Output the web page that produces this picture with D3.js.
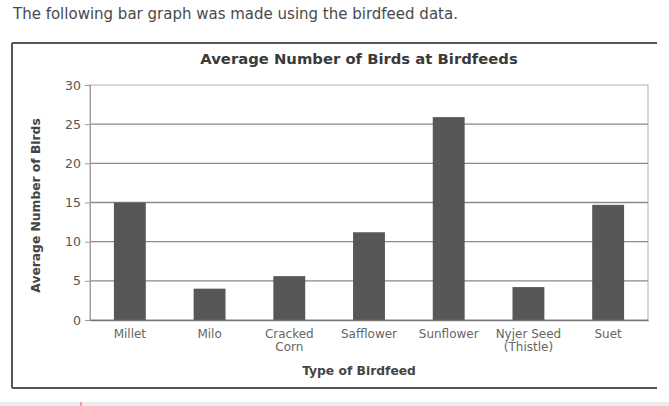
<!DOCTYPE html>
<html>
<head>
<meta charset="utf-8">
<script src="https://cdn.jsdelivr.net/npm/d3@7"></script>
<style>
  body { margin: 0; background: #fff; }
  svg { display: block; font-family: "DejaVu Sans", Verdana, sans-serif; }
</style>
</head>
<body>
<div id="chart"></div>
<script>
// birdfeed data
const feeds = ["Millet", "Milo", "Cracked Corn", "Safflower", "Sunflower", "Nyjer Seed (Thistle)", "Suet"]
const feedLines = [["Millet"], ["Milo"], ["Cracked", "Corn"], ["Safflower"], ["Sunflower"], ["Nyjer Seed", "(Thistle)"], ["Suet"]]
const birds = [15, 4, 5.6, 11.2, 25.9, 4.2, 14.7]
const yTicks = [0, 5, 10, 15, 20, 25, 30]

function drawChart() {
  const width = 669,
    height = 406,
    margin = { "top": 85, "bottom": 86, "left": 90, "right": 21 }

  const svg = d3.select("#chart").append("svg")
    .attr("width", width)
    .attr("height", height)

  // page text above the chart
  svg.append("text")
    .attr("x", 13)
    .attr("y", 19)
    .attr("font-size", 15)
    .attr("fill", "#4a4a4a")
    .text("The following bar graph was made using the birdfeed data.")

  // frame round the chart
  svg.append("line")
    .attr("x1", 12).attr("x2", 657).attr("y1", 43).attr("y2", 43)
    .attr("stroke", "#555").attr("stroke-width", 2)
  svg.append("line")
    .attr("x1", 12).attr("x2", 657).attr("y1", 388).attr("y2", 388)
    .attr("stroke", "#555").attr("stroke-width", 2)
  svg.append("line")
    .attr("x1", 12).attr("x2", 12).attr("y1", 43).attr("y2", 388)
    .attr("stroke", "#555").attr("stroke-width", 2)

  // grey strip at the bottom of the page
  svg.append("rect")
    .attr("x", 0).attr("y", 402).attr("width", width).attr("height", 4)
    .attr("fill", "#ececec")
  svg.append("rect")
    .attr("x", 80).attr("y", 402).attr("width", 2).attr("height", 4)
    .attr("fill", "#f0a0b0")

  svg.append("text")
    .attr("x", 359)
    .attr("y", 64)
    .attr("text-anchor", "middle")
    .attr("font-size", 14.8)
    .attr("font-weight", "bold")
    .attr("fill", "#3a3a3a")
    .text("Average Number of Birds at Birdfeeds")

  const x = d3.scaleBand()
    .domain(feeds)
    .range([margin.left, width - margin.right])
    .paddingInner(0.6)
    .paddingOuter(0.3)

  const y = d3.scaleLinear()
    .domain([0, 30])
    .range([height - margin.bottom, margin.top])

  // plot area border
  svg.append("rect")
    .attr("x", margin.left)
    .attr("y", margin.top)
    .attr("width", width - margin.right - margin.left)
    .attr("height", y(0) - margin.top)
    .attr("fill", "none")
    .attr("stroke", "#b0b0b0")

  // grid lines
  svg.append("g")
    .selectAll("line")
    .data(yTicks.slice(1, -1))
    .enter()
    .append("line")
    .attr("x1", margin.left)
    .attr("x2", width - margin.right)
    .attr("y1", d => y(d))
    .attr("y2", d => y(d))
    .attr("stroke", "#8a8a8a")
    .attr("stroke-width", 1.3)

  // bars
  svg.append("g")
    .selectAll("rect")
    .data(birds)
    .enter()
    .append("rect")
    .attr("x", (d, i) => x(feeds[i]))
    .attr("y", d => y(d))
    .attr("width", x.bandwidth())
    .attr("height", d => y(0) - y(d))
    .attr("fill", "#575757")

  // y axis
  const yAxis = svg.append("g")
    .attr("transform", `translate(${margin.left},0)`)
    .call(d3.axisLeft(y).tickValues(yTicks).tickSize(5).tickPadding(4))
  yAxis.select(".domain").attr("stroke", "#999")
  yAxis.selectAll(".tick line").attr("stroke", "#999")
  yAxis.selectAll(".tick text")
    .attr("font-family", "DejaVu Sans")
    .attr("font-size", 12.5)
    .attr("fill", "#555")

  // x axis
  const xAxis = svg.append("g")
    .attr("transform", `translate(0,${y(0)})`)
    .call(d3.axisBottom(x).tickSize(0).tickFormat(""))
  xAxis.select(".domain").attr("stroke", "#777").attr("stroke-width", 1.5)

  const labels = svg.append("g")
    .selectAll("text")
    .data(feedLines)
    .enter()
    .append("text")
    .attr("x", (d, i) => x(feeds[i]) + x.bandwidth() / 2)
    .attr("y", y(0) + 18)
    .attr("text-anchor", "middle")
    .attr("font-size", 12)
    .attr("fill", "#666")
  labels.selectAll("tspan")
    .data(d => d)
    .enter()
    .append("tspan")
    .attr("x", function () { return d3.select(this.parentNode).attr("x") })
    .attr("dy", (d, i) => i === 0 ? 0 : 13)
    .text(d => d)

  svg.append("text")
    .attr("x", 359)
    .attr("y", 375)
    .attr("text-anchor", "middle")
    .attr("font-size", 12.3)
    .attr("font-weight", "bold")
    .attr("fill", "#444")
    .text("Type of Birdfeed")

  svg.append("text")
    .attr("transform", `translate(40,${(y(0) + y(30)) / 2 + 3}) rotate(-90)`)
    .attr("text-anchor", "middle")
    .attr("font-size", 12.3)
    .attr("font-weight", "bold")
    .attr("fill", "#444")
    .text("Average Number of Birds")
}

drawChart()
</script>
</body>
</html>
